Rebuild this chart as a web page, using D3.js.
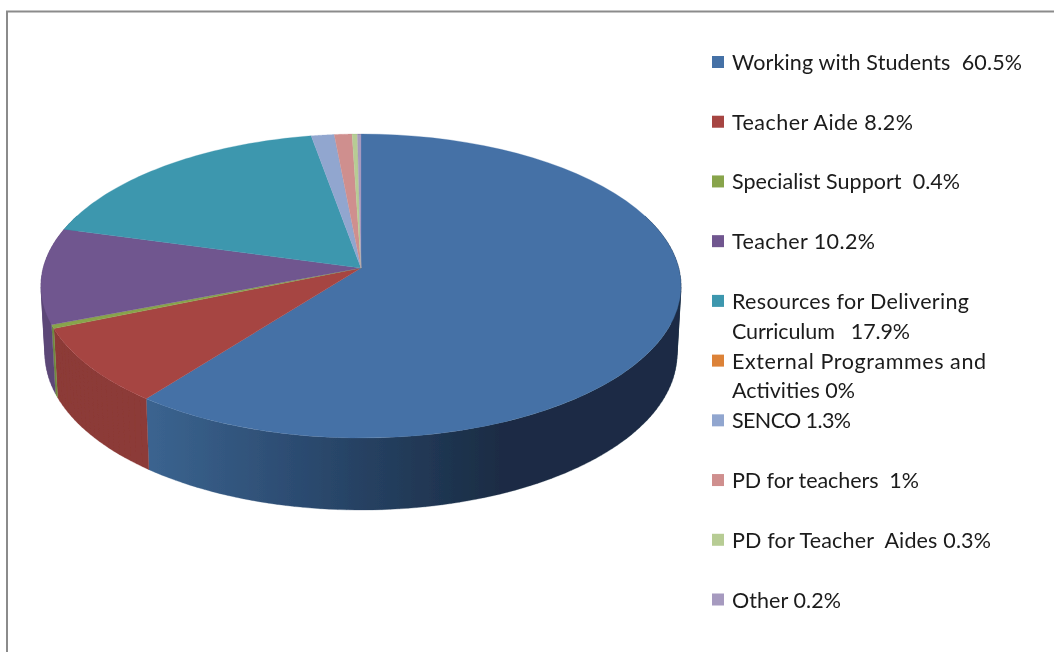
<!DOCTYPE html>
<html><head><meta charset="utf-8">
<script src="https://cdnjs.cloudflare.com/ajax/libs/d3/7.8.5/d3.min.js"></script>
<style>html,body{margin:0;padding:0;background:#fff}svg{display:block}
text{font-family:Lato,"Open Sans",sans-serif;font-size:21.5px;fill:#1a1a1a;white-space:pre}</style>
</head><body><svg id="c" width="1054" height="652"></svg>
<script>
const categories=["Working with Students","Teacher Aide","Specialist Support","Teacher","Resources for Delivering Curriculum","External Programmes and Activities","SENCO","PD for teachers","PD for Teacher Aides","Other"];
const shares=[60.5,8.2,0.4,10.2,17.9,0,1.3,1,0.3,0.2];
const colors=["#4471a6","#a64543","#88a44b","#70568f","#3e97ae","#dc8239","#91a6cf","#cf8f8e","#b7cc94","#a69abf"];
const wallColors=["url(#wallBlue)","#8c3a37","#6f8a3e","#5c4677","#327f93","#b96c2e","#7a8cb0","#ae7877","#9aac7c","#8c82a1"];
const legendLines=[["Working with Students  60.5%"],["Teacher Aide 8.2%"],["Specialist Support  0.4%"],["Teacher 10.2%"],["Resources for Delivering","Curriculum   17.9%"],["External Programmes and","Activities 0%"],["SENCO 1.3%"],["PD for teachers  1%"],["PD for Teacher  Aides 0.3%"],["Other 0.2%"]];
const legendWidths=[[290],[181],[228],[143],[237,178],[254,123],[119],[187],[259],[109]];

const svg=d3.select("#c");
const defs=svg.append("defs");
const soft=defs.append("filter").attr("id","soft");
soft.append("feGaussianBlur").attr("stdDeviation",0.45);
const softText=defs.append("filter").attr("id","softText");
softText.append("feGaussianBlur").attr("stdDeviation",0.3);
const g=defs.append("linearGradient").attr("id","wallBlue").attr("gradientUnits","userSpaceOnUse")
 .attr("x1",147).attr("x2",500).attr("y1",0).attr("y2",0);
[[0,"#3b6490"],[0.45,"#2b4a6f"],[1,"#1a2c44"]].forEach(s=>g.append("stop").attr("offset",s[0]).attr("stop-color",s[1]));

svg.append("path").attr("d","M7,652V11.5H1054").attr("fill","none").attr("stroke","#8b8b8b").attr("stroke-width",2);

const tilt=0.118;
function project(a,e){ // perspective disk: the pie's centre sits above the ellipse's centre
  const u=Math.sin(a),v=-Math.cos(a),d=1-tilt*v;
  const up=u*Math.sqrt(1-tilt*tilt)/d,vp=(v-tilt)/d;
  return [e.cx+e.rx*up,e.cy+e.ry*vp];
}
const topE={cx:361,cy:286,rx:320,ry:152};
const botE={cx:361,cy:354,rx:316,ry:156};
const arcs=d3.pie().sort(null).value(d=>d)(shares);
const samples=(a0,a1,n)=>d3.range(0,n+1).map(i=>a0+(a1-a0)*i/n);
const line=d3.line();

const pie=svg.append("g").attr("filter","url(#soft)");
const lo=1.2,hi=2*Math.PI-1.2;
arcs.forEach((s,i)=>{
  const a0=Math.max(s.startAngle,lo),a1=Math.min(s.endAngle,hi);
  if(a1<=a0)return;
  const t=samples(a0,a1,Math.max(2,Math.ceil((a1-a0)*40)));
  let d="";
  d3.pairs(t).forEach(([p,q])=>{
    let quad=[project(p,topE),project(q,topE),project(q,botE),project(p,botE)];
    if(d3.polygonArea(quad)<0)quad=quad.reverse();
    d+=line(quad)+"Z";
  });
  pie.append("path").attr("d",d).attr("fill",wallColors[i]).attr("stroke",wallColors[i]).attr("stroke-width",0.3);
});
arcs.forEach((s,i)=>{
  if(s.endAngle<=s.startAngle)return;
  const pts=[[topE.cx,topE.cy-topE.ry*tilt]].concat(samples(s.startAngle,s.endAngle,60).map(a=>project(a,topE)));
  pie.append("path").attr("d",line(pts)+"Z").attr("fill",colors[i]).attr("stroke",colors[i]).attr("stroke-width",0.3);
});

const legendY=d3.scaleLinear().domain([0,9]).range([62,599.5]);
const lg=svg.append("g").attr("filter","url(#softText)");
categories.forEach((c,i)=>{
  const y=legendY(i);
  lg.append("rect").attr("x",712).attr("y",y-6).attr("width",12).attr("height",12).attr("fill",colors[i]);
  legendLines[i].forEach((t,k)=>{
    lg.append("text").attr("x",732).attr("y",y+8+k*29.7).attr("textLength",legendWidths[i][k]).attr("lengthAdjust","spacing").text(t);
  });
});
</script></body></html>
